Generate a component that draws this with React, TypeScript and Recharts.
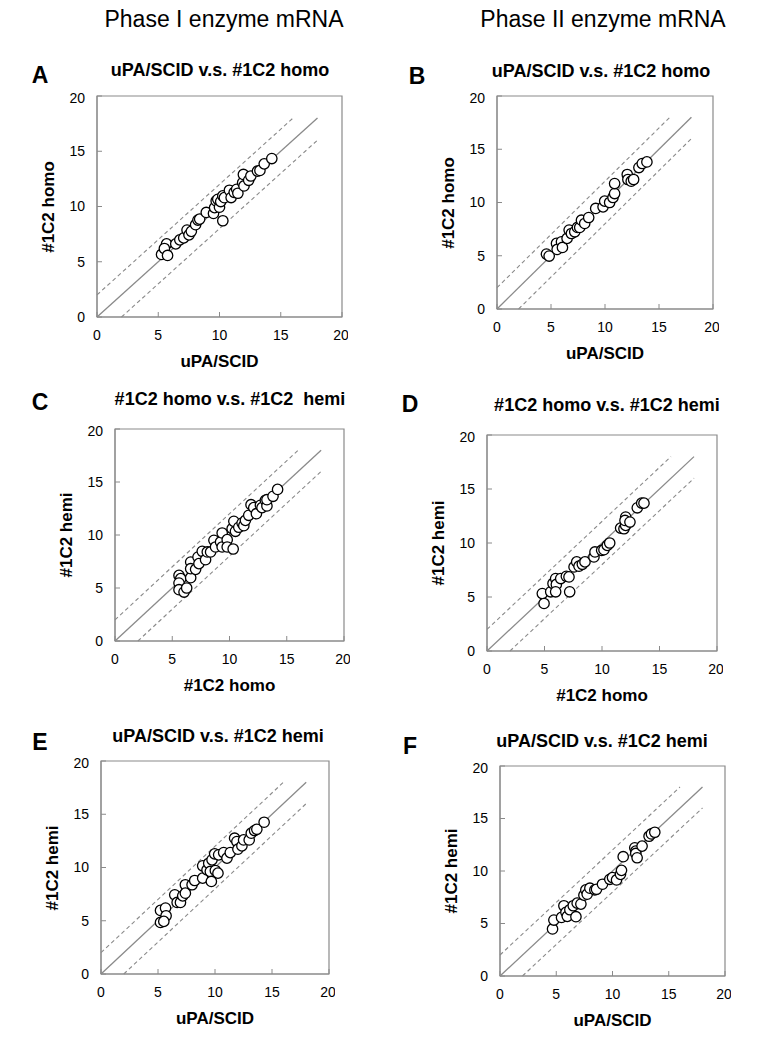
import React from 'react';
import { ScatterChart, Scatter, XAxis, YAxis, ReferenceLine, ReferenceArea } from 'recharts';

// ---------- data ----------
const axisTicks = [0, 5, 10, 15, 20];
const columnHeaders = ['Phase I enzyme mRNA', 'Phase II enzyme mRNA'];
const panelLetters = ['A', 'B', 'C', 'D', 'E', 'F'];
const panelTitles = [
  'uPA/SCID v.s. #1C2 homo',
  'uPA/SCID v.s. #1C2 homo',
  '#1C2 homo v.s. #1C2  hemi',
  '#1C2 homo v.s. #1C2 hemi',
  'uPA/SCID v.s. #1C2 hemi',
  'uPA/SCID v.s. #1C2 hemi',
];
const xAxisTitles = ['uPA/SCID', 'uPA/SCID', '#1C2 homo', '#1C2 homo', 'uPA/SCID', 'uPA/SCID'];
const yAxisTitles = ['#1C2 homo', '#1C2 homo', '#1C2 hemi', '#1C2 hemi', '#1C2 hemi', '#1C2 hemi'];

const aX = [5.27, 5.68, 5.5, 5.76, 6.43, 6.76, 7.08, 7.35, 7.51, 7.7, 8.05, 8.24, 8.38, 8.92, 9.51, 9.6, 9.73, 9.86, 10.0, 10.1, 10.27, 10.27, 10.4, 10.81, 10.95, 11.2, 11.4, 11.5, 11.89, 11.95, 12.0, 12.38, 12.56, 13.1, 13.3, 13.65, 14.27];
const aY = [5.66, 6.62, 6.2, 5.57, 6.62, 6.98, 7.16, 7.87, 7.43, 7.75, 8.35, 8.77, 8.86, 9.46, 9.37, 9.9, 10.5, 10.65, 9.94, 10.45, 8.71, 10.96, 10.8, 11.47, 10.81, 11.28, 11.56, 11.2, 12.16, 12.9, 11.86, 12.37, 12.76, 13.2, 13.26, 13.86, 14.34];

const bX = [4.58, 4.83, 5.51, 5.57, 5.97, 6.06, 6.49, 6.68, 6.89, 7.2, 7.45, 7.66, 7.82, 8.12, 8.49, 9.14, 9.82, 9.97, 10.43, 10.74, 10.89, 10.89, 12.06, 12.12, 12.43, 12.65, 13.14, 13.45, 13.88];
const bY = [5.16, 4.97, 6.16, 5.59, 6.31, 5.78, 6.63, 7.41, 7.09, 7.25, 7.66, 7.66, 8.34, 8.03, 8.59, 9.44, 9.59, 10.13, 10.0, 10.47, 10.84, 11.78, 12.63, 12.16, 12.0, 12.16, 13.28, 13.66, 13.81];

const cX = [5.59, 5.74, 5.59, 5.59, 6.03, 6.26, 6.61, 6.61, 6.61, 7.04, 7.25, 7.33, 7.62, 7.91, 8.06, 8.35, 8.64, 8.78, 9.22, 9.36, 9.36, 9.8, 9.8, 10.32, 10.23, 10.38, 10.52, 10.81, 11.1, 11.25, 11.39, 11.68, 11.88, 12.12, 12.35, 12.7, 12.84, 13.13, 13.27, 13.27, 13.8, 14.2];
const cY = [6.19, 5.88, 5.47, 4.84, 4.62, 5.0, 5.97, 7.45, 6.82, 6.76, 7.92, 7.3, 8.46, 7.67, 8.4, 8.4, 9.5, 8.87, 9.34, 10.19, 8.87, 9.56, 8.87, 8.68, 10.6, 11.29, 10.35, 10.73, 11.13, 10.88, 11.38, 11.86, 12.86, 12.58, 12.01, 12.8, 12.58, 13.27, 12.74, 13.33, 13.65, 14.3];

const dX = [4.81, 4.96, 5.54, 5.74, 5.97, 6.03, 5.97, 6.41, 6.9, 7.13, 7.19, 7.57, 7.8, 8.0, 8.29, 8.52, 9.3, 9.39, 9.97, 10.17, 10.46, 10.67, 11.62, 11.91, 12.06, 12.06, 12.0, 12.43, 13.07, 13.45, 13.65];
const dY = [5.32, 4.4, 5.48, 6.25, 6.71, 6.16, 5.48, 6.71, 6.92, 6.86, 5.48, 7.78, 8.25, 7.85, 8.03, 8.25, 8.71, 9.17, 9.32, 9.38, 9.78, 10.0, 11.38, 11.32, 11.63, 12.4, 12.09, 11.94, 13.26, 13.69, 13.69];

const eX = [5.22, 5.66, 5.71, 5.22, 5.51, 6.47, 6.68, 6.97, 7.17, 7.4, 7.4, 7.99, 8.22, 8.92, 8.92, 9.3, 9.45, 9.59, 9.68, 9.74, 9.97, 10.03, 10.26, 10.32, 10.76, 11.05, 11.34, 11.72, 11.92, 12.01, 12.36, 12.51, 13.0, 13.18, 13.47, 13.67, 14.31];
const eY = [5.97, 6.19, 5.47, 4.84, 4.94, 7.44, 6.72, 6.72, 7.34, 8.38, 7.59, 8.38, 8.78, 9.0, 10.16, 9.78, 10.4, 9.63, 8.69, 10.72, 11.28, 9.72, 9.47, 11.19, 11.4, 10.88, 11.4, 12.75, 12.44, 11.72, 12.03, 12.59, 12.59, 13.22, 13.47, 13.59, 14.25];

const fX = [4.67, 4.79, 5.47, 5.68, 5.86, 5.98, 6.21, 6.51, 6.75, 6.86, 7.19, 7.46, 7.63, 7.75, 7.99, 8.43, 8.58, 9.11, 9.76, 10.0, 10.36, 10.71, 10.8, 10.95, 11.98, 12.07, 12.07, 12.19, 12.63, 13.25, 13.46, 13.76];
const fY = [4.48, 5.33, 5.58, 6.69, 6.06, 5.68, 6.31, 6.69, 5.65, 6.94, 6.85, 7.7, 8.2, 7.79, 8.36, 8.2, 8.26, 8.74, 9.21, 9.37, 9.15, 9.68, 10.06, 11.36, 12.21, 11.89, 11.67, 11.26, 12.37, 13.31, 13.53, 13.69];

const panelXs = [aX, bX, cX, dX, eX, fX];
const panelYs = [aY, bY, cY, dY, eY, fY];

// ---------- layout (page pixels) ----------
// plot box: left, top, right, bottom
const boxes = [
  [97, 96, 342, 317],
  [497, 96, 713, 309],
  [115, 429, 344, 641],
  [487, 435, 717, 651],
  [101, 761, 329, 974],
  [500, 766, 725, 976],
];
const titleCenters = [[220, 70], [601, 71], [230, 399], [607, 405], [218, 736], [602, 741]];
const letterCenters = [[40, 75], [417, 76], [40, 402], [410, 404], [40, 742], [410, 746]];
const headerCenters = [[224, 19], [603, 19]];

const FONT = '"Liberation Sans", Arial, Helvetica, sans-serif';
const GRAY = '#8a8a8a';
const YW = 45;
const RM = 6;
const TM = 6;
const XH = 32;

const Circle = (p: any) => (
  <circle cx={p.cx} cy={p.cy} r={5.2} fill="#fff" stroke="#000" strokeWidth={1.3} />
);

function Panel({ idx }: { idx: number }) {
  const [l, t, r, b] = boxes[idx];
  const w = r - l + YW + RM;
  const h = b - t + TM + XH;
  const data = panelXs[idx].map((x, i) => ({ x, y: panelYs[idx][i] }));
  return (
    <div style={{ position: 'absolute', left: l - YW, top: t - TM, width: w, height: h }}>
      <ScatterChart width={w} height={h} margin={{ top: TM, right: RM, left: 0, bottom: 0 }}>
        <XAxis
          type="number"
          dataKey="x"
          domain={[0, 20]}
          ticks={axisTicks}
          allowDataOverflow
          height={XH}
          tickSize={-5}
          tickMargin={18}
          stroke={GRAY}
          tick={{ fill: '#000', fontSize: 14, fontFamily: FONT }}
        />
        <YAxis
          type="number"
          dataKey="y"
          domain={[0, 20]}
          ticks={axisTicks}
          allowDataOverflow
          width={YW}
          tickSize={-5}
          tickMargin={17}
          stroke={GRAY}
          tick={{ fill: '#000', fontSize: 14, fontFamily: FONT }}
        />
        <ReferenceArea x1={0} x2={20} y1={0} y2={20} fill="none" fillOpacity={0} stroke={GRAY} strokeWidth={1.2} />
        <ReferenceLine segment={[{ x: 0, y: 2 }, { x: 16, y: 18 }]} stroke={GRAY} strokeWidth={1.1} strokeDasharray="4 3" />
        <ReferenceLine segment={[{ x: 2, y: 0 }, { x: 18, y: 16 }]} stroke={GRAY} strokeWidth={1.1} strokeDasharray="4 3" />
        <ReferenceLine segment={[{ x: 0, y: 0 }, { x: 18, y: 18 }]} stroke={GRAY} strokeWidth={1.3} />
        <Scatter data={data} isAnimationActive={false} shape={Circle} />
      </ScatterChart>
    </div>
  );
}

const centered = (x: number, y: number, extra: React.CSSProperties = {}): React.CSSProperties => ({
  position: 'absolute',
  left: x,
  top: y,
  transform: 'translate(-50%, -50%)',
  whiteSpace: 'pre',
  fontFamily: FONT,
  color: '#000',
  lineHeight: 1,
  ...extra,
});

export default function App() {
  return (
    <div style={{ position: 'absolute', left: 0, top: 0, width: 769, height: 1043, background: '#fff', overflow: 'hidden' }}>
      {columnHeaders.map((h, i) => (
        <div key={h} style={centered(headerCenters[i][0], headerCenters[i][1], { fontSize: 23 })}>{h}</div>
      ))}
      {boxes.map((bx, i) => {
        const [l, t, r, b] = bx;
        return (
          <React.Fragment key={i}>
            <Panel idx={i} />
            <div style={centered(letterCenters[i][0], letterCenters[i][1], { fontSize: 23, fontWeight: 'bold' })}>{panelLetters[i]}</div>
            <div style={centered(titleCenters[i][0], titleCenters[i][1], { fontSize: 18, fontWeight: 'bold' })}>{panelTitles[i]}</div>
            <div style={centered((l + r) / 2, b + 44, { fontSize: 17, fontWeight: 'bold' })}>{xAxisTitles[i]}</div>
            <div style={centered(l - 49, (t + b) / 2, { fontSize: 17, fontWeight: 'bold', transform: 'translate(-50%, -50%) rotate(-90deg)' })}>{yAxisTitles[i]}</div>
          </React.Fragment>
        );
      })}
    </div>
  );
}
